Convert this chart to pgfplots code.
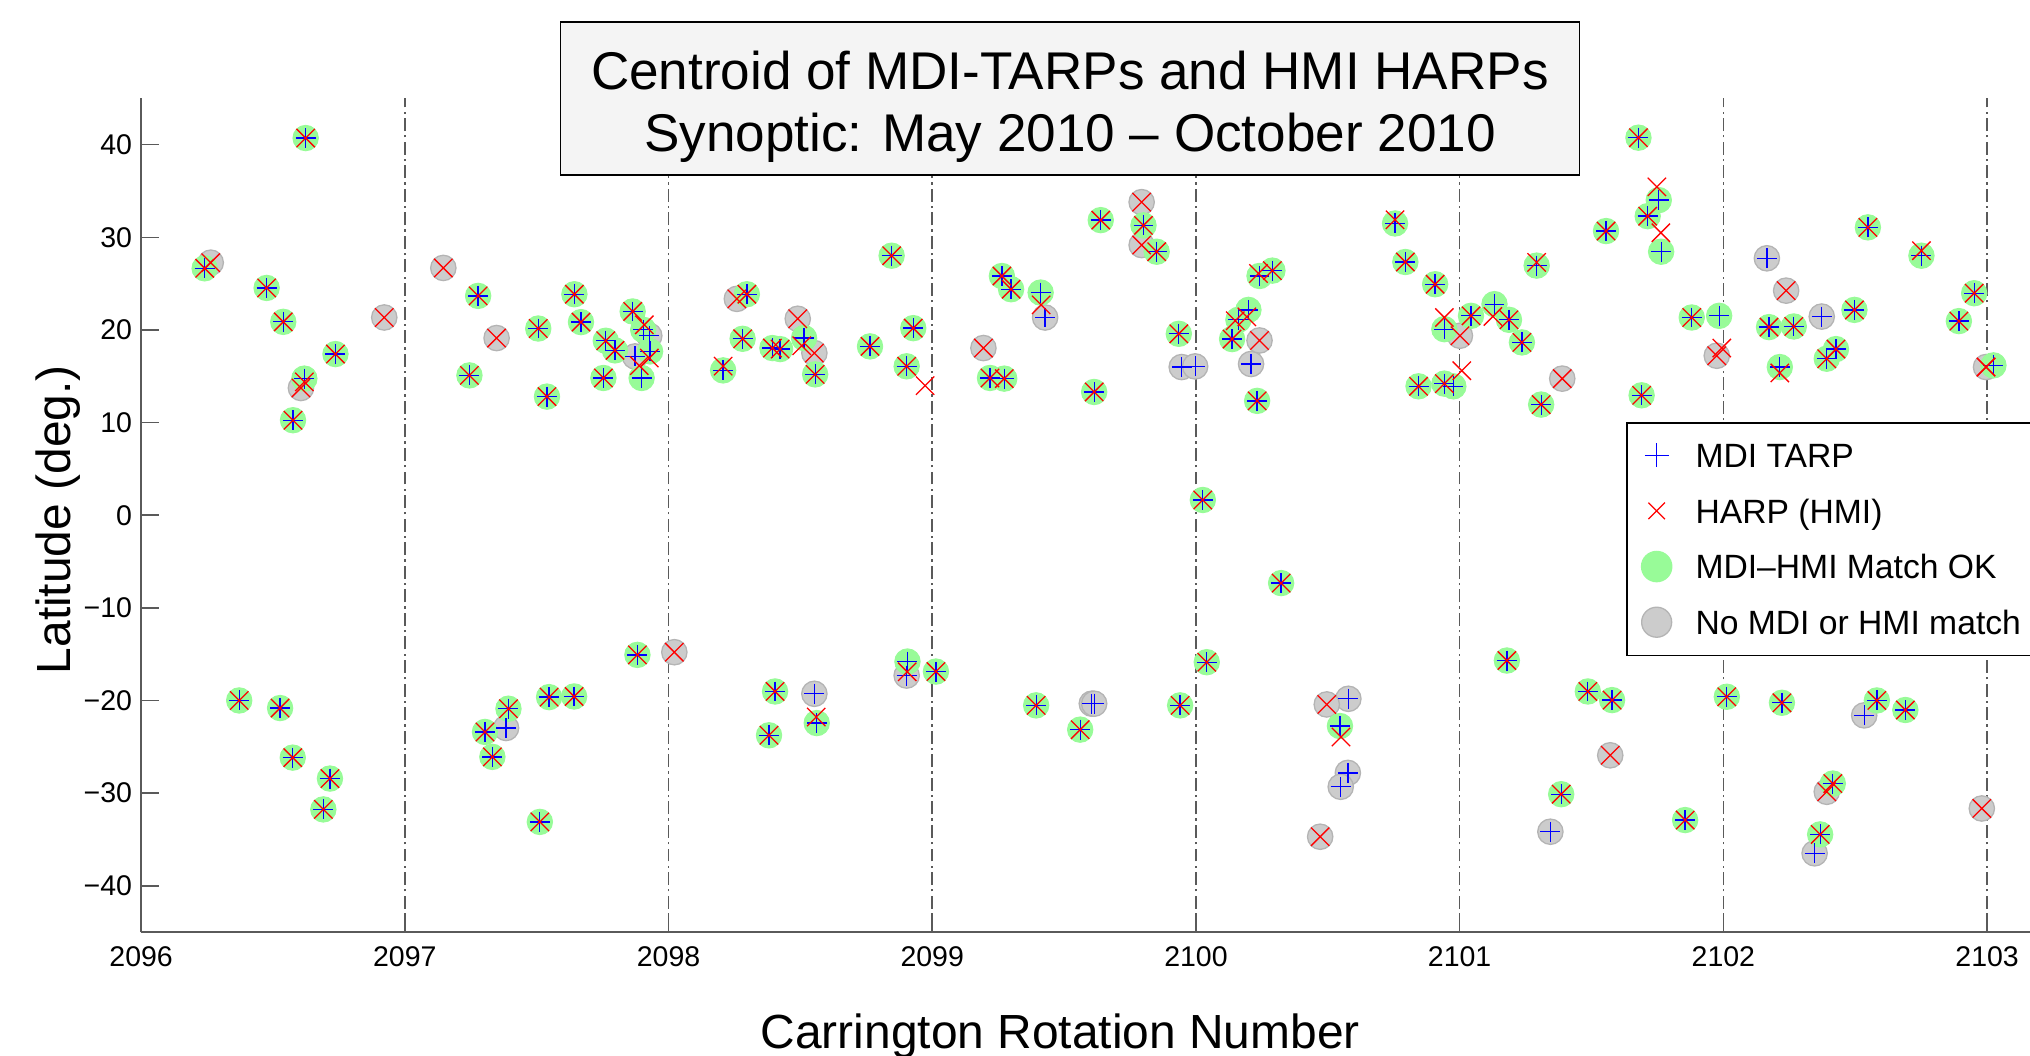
\documentclass[border=0pt]{standalone}
\usepackage{pgfplots}
\usepackage{pgfplotstable}
\pgfplotsset{compat=1.18}
\usepackage{fontspec}
\setmainfont{Liberation Sans}
\definecolor{mgreen}{RGB}{152,251,152}
\definecolor{gfill}{RGB}{204,204,204}
\definecolor{gedge}{RGB}{180,180,180}
\definecolor{titlegray}{RGB}{244,244,244}
\definecolor{gridgray}{RGB}{90,90,90}
\definecolor{axgray}{RGB}{90,90,90}

\pgfplotstableread{
xm ym xh yh
2096.241 26.66 2096.241 26.66
2096.476 24.54 2096.476 24.54
2096.624 40.72 2096.624 40.72
2096.539 20.88 2096.539 20.88
2096.737 17.40 2096.737 17.40
2096.619 14.75 2096.619 14.40
2096.576 10.26 2096.576 10.26
2097.278 23.68 2097.278 23.68
2097.245 15.10 2097.245 15.10
2097.506 20.16 2097.506 20.16
2097.643 23.86 2097.643 23.86
2097.668 20.85 2097.668 20.85
2097.539 12.81 2097.539 12.81
2097.753 14.82 2097.753 14.82
2097.762 18.84 2097.762 18.84
2097.797 17.80 2097.797 17.80
2097.864 22.00 2097.864 22.00
2097.904 20.02 2097.908 20.56
2097.930 17.69 2097.927 16.97
2097.898 14.82 2097.889 16.15
2098.297 23.86 2098.297 23.86
2098.281 19.05 2098.281 19.05
2098.207 15.64 2098.207 16.10
2098.394 18.05 2098.394 18.05
2098.423 17.94 2098.423 17.94
2098.514 19.13 2098.505 18.30
2098.556 15.21 2098.556 15.21
2098.764 18.23 2098.764 18.23
2098.846 28.02 2098.846 28.02
2098.928 20.20 2098.928 20.20
2098.903 16.08 2098.903 16.08
2099.264 25.83 2099.264 25.83
2099.299 24.40 2099.299 24.40
2099.411 24.04 2099.413 22.71
2099.219 14.82 2099.219 14.82
2099.273 14.75 2099.273 14.75
2099.639 31.86 2099.639 31.86
2099.801 31.29 2099.801 31.29
2099.851 28.45 2099.851 28.45
2099.614 13.31 2099.614 13.31
2099.935 19.59 2099.935 19.59
2100.026 1.65 2100.026 1.65
2100.241 25.83 2100.237 26.10
2100.290 26.41 2100.290 26.41
2100.199 22.17 2100.193 21.42
2100.161 21.10 2100.149 21.00
2100.137 19.02 2100.137 19.02
2100.232 12.35 2100.232 12.35
2100.755 31.50 2100.755 31.90
2100.794 27.34 2100.794 27.34
2100.907 24.94 2100.907 24.94
2100.942 20.09 2100.942 21.35
2101.043 21.53 2101.043 21.53
2101.132 22.79 2101.126 21.46
2101.187 21.10 2101.187 21.10
2101.236 18.66 2101.236 18.66
2100.844 13.92 2100.844 13.92
2100.942 14.21 2100.942 14.21
2100.976 13.92 2101.008 15.61
2101.309 11.95 2101.309 11.95
2101.292 26.95 2101.292 27.30
2101.555 30.68 2101.555 30.68
2101.678 40.76 2101.678 40.76
2101.713 32.29 2101.713 32.29
2101.755 34.02 2101.748 35.45
2101.764 28.45 2101.763 30.50
2101.690 12.95 2101.690 12.95
2101.880 21.35 2101.880 21.35
2101.984 21.53 2101.994 18.05
2102.173 20.31 2102.173 20.31
2102.267 20.38 2102.267 20.38
2102.497 22.17 2102.497 22.17
2102.214 16.00 2102.214 15.36
2102.392 16.90 2102.392 16.90
2102.427 17.94 2102.427 17.94
2102.548 31.08 2102.548 31.08
2102.751 28.02 2102.751 28.56
2102.951 23.97 2102.951 23.97
2102.893 20.96 2102.893 20.96
2103.024 16.18 2102.996 16.00
2096.372 -19.99 2096.372 -19.99
2096.527 -20.81 2096.527 -20.81
2096.575 -26.16 2096.575 -26.16
2096.716 -28.42 2096.716 -28.42
2096.691 -31.75 2096.691 -31.75
2097.393 -20.88 2097.393 -20.88
2097.304 -23.39 2097.304 -23.39
2097.332 -26.08 2097.332 -26.08
2097.512 -33.10 2097.512 -33.10
2097.547 -19.63 2097.547 -19.63
2097.642 -19.56 2097.642 -19.56
2097.882 -15.07 2097.882 -15.07
2098.404 -19.02 2098.404 -19.02
2098.562 -22.43 2098.560 -21.78
2098.381 -23.75 2098.381 -23.75
2098.906 -15.79 2098.905 -16.90
2099.014 -16.87 2099.014 -16.87
2099.394 -20.52 2099.394 -20.52
2099.561 -23.14 2099.561 -23.14
2099.940 -20.52 2099.940 -20.52
2100.041 -15.86 2100.041 -15.86
2100.323 -7.32 2100.323 -7.32
2100.546 -22.75 2100.550 -23.93
2101.179 -15.68 2101.179 -15.68
2101.486 -19.02 2101.486 -19.02
2101.578 -19.95 2101.578 -19.95
2101.385 -30.11 2101.385 -30.11
2101.855 -32.90 2101.855 -32.90
2102.013 -19.59 2102.013 -19.59
2102.222 -20.24 2102.222 -20.24
2102.582 -19.99 2102.582 -19.99
2102.690 -21.02 2102.690 -21.02
2102.415 -28.96 2102.415 -28.96
2102.367 -34.45 2102.367 -34.45
}\matched

\pgfplotstableread{
x y
2097.384 -22.96
2097.927 19.38
2097.873 17.15
2098.553 -19.27
2098.903 -17.30
2099.428 21.35
2099.946 16.00
2099.997 16.07
2099.605 -20.34
2099.614 -20.34
2100.209 16.33
2100.578 -19.81
2100.576 -27.81
2100.549 -29.31
2101.344 -34.16
2102.165 27.74
2102.373 21.45
2102.534 -21.60
2102.346 -36.49
}\mdionly

\pgfplotstableread{
x y
2096.264 27.27
2096.606 13.74
2096.922 21.35
2097.146 26.70
2097.348 19.13
2098.259 23.36
2098.490 21.21
2098.553 17.51
2098.022 -14.78
2099.194 18.05
2099.794 33.80
2099.794 29.17
2100.241 18.87
2101.001 19.38
2101.389 14.75
2100.496 -20.42
2100.471 -34.70
2101.571 -25.91
2101.975 17.22
2102.238 24.25
2102.996 16.00
2102.392 -29.85
2102.980 -31.65
}\hmionly

\pgfplotstableread{
x y
2098.973 13.99
}\hmilone

\begin{document}
\begin{tikzpicture}
\begin{axis}[
  scale only axis,
  width=733.3pt, height=322pt,
  xmin=2096, xmax=2103.2, ymin=-45, ymax=45,
  axis x line*=bottom, axis y line*=left,
  axis line style={axgray, line width=0.7pt},
  tick align=inside,
  major tick length=7pt,
  tick style={axgray, line width=0.6pt},
  xtick={2096,2097,2098,2099,2100,2101,2102,2103},
  xticklabels={2096,2097,2098,2099,2100,2101,2102,2103},
  ytick={-40,-30,-20,-10,0,10,20,30,40},
  yticklabels={−40,−30,−20,−10,0,10,20,30,40},
  ticklabel style={font=\fontsize{11}{13}\selectfont},
  xticklabel style={yshift=-2.2pt},
  xmajorgrids,
  major grid style={gridgray, line width=0.6pt, dash pattern=on 5pt off 1.6pt on 0.9pt off 1.6pt},
  xlabel={Carrington Rotation Number},
  xlabel style={at={(axis description cs:0.4841,0)}, anchor=base, yshift=-45pt, font=\fontsize{18.5}{22}\selectfont},
  ylabel={Latitude (deg.)},
  ylabel style={at={(axis description cs:0,0.4946)}, anchor=base, yshift=27.2pt, font=\fontsize{18.5}{22}\selectfont},
  title={\rule{0pt}{21.3pt}Centroid of MDI-TARPs and HMI HARPs\\Synoptic: May 2010 – October 2010},
  title style={at={(axis description cs:0.4892,1)}, anchor=center, yshift=-6pt, draw=black, fill=titlegray, line width=0.6pt,
    align=center, font=\fontsize{20.5}{24}\selectfont, minimum width=393.5pt, minimum height=59pt, inner sep=0pt},
  legend cell align=left,
  legend image code/.code={\draw[#1] plot coordinates {(0pt,0.2pt)}; \path[draw=none,fill=none] (-7pt,-6.5pt) rectangle (7pt,6.5pt);},
  legend style={at={(axis description cs:0.7821,0.6118)}, anchor=north west, draw=black, line width=0.6pt, fill=white,
    font=\fontsize{13}{15.6}\selectfont, inner xsep=4.5pt, inner ysep=6.2pt, column sep=8pt, row sep=8.5pt,
    nodes={inner sep=0pt, text height=11pt, text depth=2pt}},
  clip=false,
]
\addlegendimage{only marks, mark=+, blue, mark size=4.6pt, line width=0.5pt}
\addlegendimage{only marks, mark=x, red, mark size=4.5pt, line width=0.5pt}
\addlegendimage{only marks, mark=*, mark size=5.8pt, draw=mgreen, fill=mgreen}
\addlegendimage{only marks, mark=*, mark size=5.8pt, draw=gedge, fill=gfill, line width=0.5pt}

\addplot[forget plot, only marks, mark=*, mark size=4.9pt, draw=gedge, fill=gfill, line width=0.5pt] table[x=x,y=y] {\mdionly};
\addplot[forget plot, only marks, mark=*, mark size=4.9pt, draw=gedge, fill=gfill, line width=0.5pt] table[x=x,y=y] {\hmionly};
\addplot[forget plot, only marks, mark=*, mark size=4.9pt, draw=mgreen, fill=mgreen] table[x=xm,y=ym] {\matched};
\addplot[forget plot, only marks, mark=+, blue, mark size=3.85pt, line width=0.5pt] table[x=xm,y=ym] {\matched};
\addplot[forget plot, only marks, mark=+, blue, mark size=3.85pt, line width=0.5pt] table[x=x,y=y] {\mdionly};
\addplot[forget plot, only marks, mark=x, red, mark size=5pt, line width=0.5pt] table[x=xh,y=yh] {\matched};
\addplot[forget plot, only marks, mark=x, red, mark size=5pt, line width=0.5pt] table[x=x,y=y] {\hmionly};
\addplot[forget plot, only marks, mark=x, red, mark size=5pt, line width=0.5pt] table[x=x,y=y] {\hmilone};
\legend{MDI TARP, HARP (HMI), MDI–HMI Match OK, No MDI or HMI match}
\end{axis}
\pgfresetboundingbox
\path[use as bounding box] (-54.5pt,-47.5pt) rectangle (729.5pt,360pt);
\end{tikzpicture}
\end{document}
